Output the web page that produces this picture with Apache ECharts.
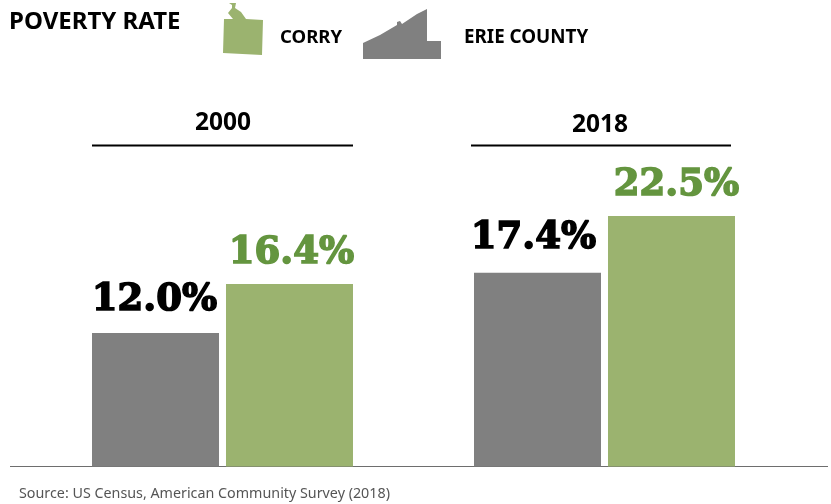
<!DOCTYPE html>
<html>
<head>
<meta charset="utf-8">
<style>html,body{margin:0;padding:0;background:#fff}#chart{width:831px;height:504px}</style>
<script src="https://cdn.jsdelivr.net/npm/echarts@6/dist/echarts.min.js"></script>
</head>
<body>
<div id="chart"></div>
<script>
const years = ['2000', '2018'];
const erieCounty = [12.0, 17.4];
const corry = [16.4, 22.5];

const GREY = '#808080';
const GREEN = '#9bb36f';
const GREEN_TEXT = '#64953f';
const valueFont = '"DejaVu Serif"';
const bodyFont = '"Noto Sans"';

const chart = echarts.init(document.getElementById('chart'), null, { renderer: 'canvas' });

function valueLabel(color) {
  return {
    show: true,
    position: 'top',
    formatter: p => p.value.toFixed(1) + '%',
    fontFamily: valueFont,
    fontWeight: 'bold',
    fontSize: 37,
    color: color,
    textBorderColor: color,
    textBorderWidth: 1.6
  };
}

function heading(text, x, y) {
  return {
    type: 'text', x, y,
    style: { text, fontFamily: bodyFont, fontWeight: 'bold', fontSize: 24.5, fill: '#000', textAlign: 'center', textVerticalAlign: 'middle' }
  };
}

function rule(x1, x2, y, color, width) {
  return { type: 'line', shape: { x1, y1: y, x2, y2: y }, style: { stroke: color, lineWidth: width } };
}

chart.setOption({
  animation: false,
  backgroundColor: '#fff',
  grid: { left: 31.5, width: 764, top: 132.5, height: 334 },
  xAxis: {
    type: 'category',
    data: years,
    axisLine: { show: false },
    axisTick: { show: false },
    axisLabel: { show: false }
  },
  yAxis: { type: 'value', min: 0, max: 30, show: false },
  series: [
    {
      name: 'Erie County', type: 'bar', barWidth: 127, barGap: '5.5%',
      itemStyle: { color: GREY },
      label: valueLabel('#000'),
      data: [
        { value: erieCounty[0], label: { offset: [-1, -9] } },
        { value: erieCounty[1], label: { offset: [-4, -11] } }
      ]
    },
    {
      name: 'Corry', type: 'bar', barWidth: 127,
      itemStyle: { color: GREEN },
      label: valueLabel(GREEN_TEXT),
      data: [
        { value: corry[0], label: { offset: [2, -7] } },
        { value: corry[1], label: { offset: [5, -7] } }
      ]
    }
  ],
  graphic: [
    { type: 'text', x: 9, y: 22, style: { text: 'POVERTY RATE', fontFamily: bodyFont, fontWeight: 'bold', fontSize: 24, fill: '#000', textVerticalAlign: 'middle' } },
    // Corry outline
    { type: 'polygon', shape: { points: [[229,3],[236,3],[235,8],[241,12],[246,19],[263,20],[262,55],[223,53],[224,19],[233,19],[228,13],[232,8],[232,5]] }, style: { fill: GREEN } },
    { type: 'text', x: 280, y: 38, style: { text: 'CORRY', fontFamily: bodyFont, fontWeight: 'bold', fontSize: 18.5, fill: '#000', textVerticalAlign: 'middle' } },
    // Erie County outline
    { type: 'polygon', shape: { points: [[363,43],[380,35],[397,25],[397,22],[400,21],[402,24],[417,14],[427,9],[427,41],[441,41],[441,59],[363,59]] }, style: { fill: GREY } },
    { type: 'text', x: 464, y: 38, style: { text: 'ERIE COUNTY', fontFamily: bodyFont, fontWeight: 'bold', fontSize: 18.8, fill: '#000', textVerticalAlign: 'middle' } },
    heading(years[0], 223, 123),
    heading(years[1], 600, 125),
    rule(92, 353, 145.5, '#000', 2),
    rule(471, 731, 145.5, '#000', 2),
    rule(10, 828, 466.5, '#6e6e6e', 1.2),
    { type: 'text', x: 19, y: 494, style: { text: 'Source: US Census, American Community Survey (2018)', fontFamily: bodyFont, fontSize: 14.3, fill: '#555', textVerticalAlign: 'middle' } }
  ]
});
</script>
</body>
</html>
